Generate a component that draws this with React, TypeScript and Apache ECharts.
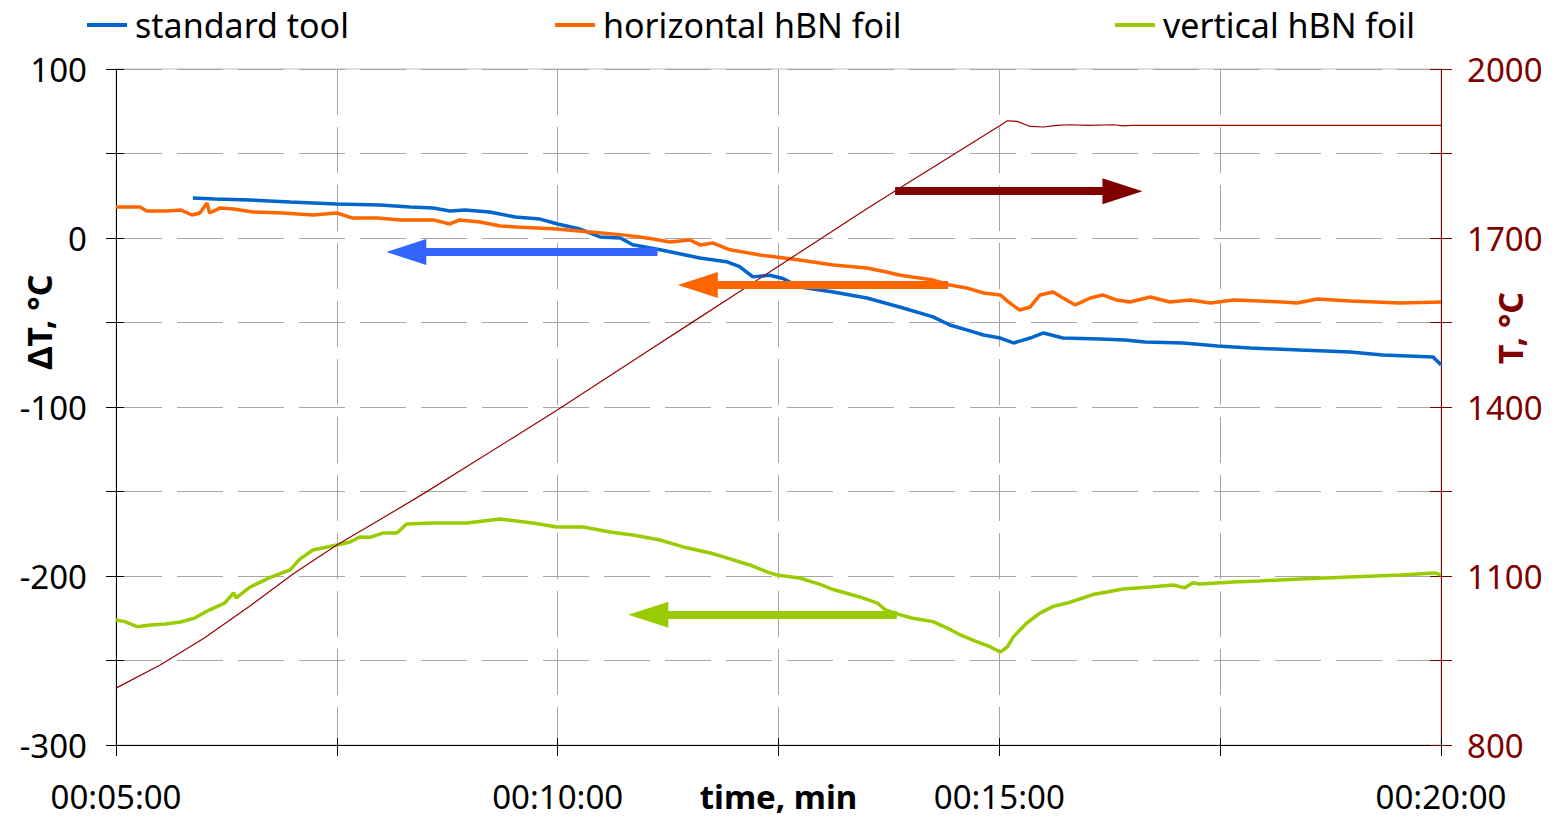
import React, { useEffect, useRef } from 'react';
import * as echarts from 'echarts';

// ---- labels ----
const legendNames = ['standard tool', 'horizontal hBN foil', 'vertical hBN foil'];
const tempName = 'T';
const xLabelMinutes = [5, 10, 15, 20];
const leftTickLabels = [-300, -200, -100, 0, 100];
const rightTickLabels = [800, 1100, 1400, 1700, 2000];

// ---- data: [minutes, value] ----
const standardTool: [number, number][] = [
  [5.87, 23.7], [6.12, 23.1], [6.52, 22.5], [6.97, 21.3], [7.5, 20.1], [7.99, 19.5], [8.33, 18.3],
  [8.59, 17.8], [8.78, 16.0], [8.95, 16.6], [9.23, 15.4], [9.52, 12.4], [9.8, 11.2], [10.0, 8.3],
  [10.24, 5.5], [10.48, 0.6], [10.71, 0.0], [10.85, -4.0], [11.16, -7.0], [11.61, -11.8], [11.91, -14.0],
  [12.06, -17.0], [12.21, -23.0], [12.4, -22.0], [12.55, -24.0], [12.74, -29.0], [13.12, -32.0],
  [13.5, -35.5], [13.88, -41.0], [14.25, -46.7], [14.44, -51.5], [14.63, -54.4], [14.82, -57.4],
  [15.01, -59.2], [15.16, -62.1], [15.35, -59.2], [15.5, -56.2], [15.72, -59.2], [16.14, -59.8],
  [16.42, -60.4], [16.65, -61.5], [17.08, -62.1], [17.47, -63.9], [17.84, -65.1], [18.4, -66.3],
  [18.97, -67.5], [19.34, -69.2], [19.91, -70.4], [20.0, -75.0],
];

const horizontalFoil: [number, number][] = [
  [5.0, 18.3], [5.27, 18.3], [5.35, 16.0], [5.58, 16.0], [5.73, 16.6], [5.86, 13.6], [5.95, 14.8],
  [6.03, 20.7], [6.06, 14.8], [6.18, 17.8], [6.33, 17.2], [6.55, 15.4], [6.89, 14.8], [7.23, 13.6],
  [7.5, 14.8], [7.68, 11.8], [7.96, 11.8], [8.22, 10.7], [8.59, 10.7], [8.78, 8.3], [8.89, 10.7],
  [9.12, 9.5], [9.35, 7.1], [9.54, 6.5], [9.99, 5.3], [10.37, 3.6], [10.71, 2.0], [10.93, 0.6],
  [11.08, -0.6], [11.27, -2.4], [11.5, -1.2], [11.61, -4.1], [11.76, -3.0], [11.95, -7.0],
  [12.29, -10.0], [12.74, -13.0], [13.12, -16.0], [13.5, -17.8], [13.71, -20.0], [13.88, -22.0],
  [14.25, -24.9], [14.44, -27.8], [14.63, -29.6], [14.82, -32.5], [15.01, -33.7], [15.12, -38.5],
  [15.23, -42.6], [15.35, -40.8], [15.46, -33.7], [15.61, -32.0], [15.72, -35.5], [15.86, -39.6],
  [16.03, -35.5], [16.17, -33.7], [16.33, -36.7], [16.48, -37.9], [16.71, -34.9], [16.93, -37.9],
  [17.16, -36.7], [17.39, -38.5], [17.65, -36.7], [18.21, -37.9], [18.37, -38.5], [18.6, -36.1],
  [18.97, -37.3], [19.54, -38.5], [20.0, -37.9],
];

const verticalFoil: [number, number][] = [
  [5.0, -226], [5.1, -227], [5.24, -230], [5.39, -229], [5.56, -228.4], [5.73, -227.2], [5.89, -224.9],
  [6.06, -220], [6.23, -216], [6.33, -210], [6.36, -213], [6.52, -206.5], [6.74, -201], [6.97, -196.4],
  [7.08, -190], [7.23, -184.6], [7.5, -181.7], [7.65, -179.9], [7.76, -176.9], [7.88, -177],
  [8.02, -174.6], [8.18, -174.6], [8.29, -169.2], [8.59, -168.6], [8.97, -168.6], [9.35, -166.3],
  [9.72, -168.6], [9.99, -171], [10.29, -171], [10.59, -174], [10.85, -175.7], [11.16, -178.7],
  [11.42, -182.8], [11.73, -186.4], [11.99, -190.5], [12.1, -192.3], [12.18, -193.5], [12.37, -197.6],
  [12.48, -199.4], [12.74, -201.2], [12.97, -205], [13.12, -208], [13.42, -212.4], [13.62, -216],
  [13.71, -220], [13.88, -223], [14.02, -225], [14.25, -227], [14.41, -230.8], [14.56, -234.9],
  [14.7, -237.9], [14.9, -242], [15.01, -245], [15.09, -242], [15.16, -236], [15.31, -227.8],
  [15.46, -222], [15.61, -218], [15.77, -216], [15.91, -213.6], [16.06, -211], [16.22, -209.5],
  [16.4, -207.7], [16.71, -206.5], [16.97, -205.3], [17.1, -207], [17.19, -204], [17.27, -204.7],
  [17.65, -203.5], [17.95, -202.9], [18.4, -201.8], [18.97, -200.6], [19.54, -199.4], [19.93, -198.2],
  [20.0, -199.4],
];

const furnaceTemp: [number, number][] = [
  [5.0, 901], [5.5, 942], [6.0, 990], [6.5, 1045], [7.0, 1103], [7.5, 1155], [8.0, 1201], [8.5, 1248],
  [9.0, 1297], [9.5, 1346], [10.0, 1395], [10.5, 1446], [11.0, 1497], [11.5, 1548], [12.0, 1599],
  [12.5, 1650], [13.0, 1701], [13.5, 1752], [14.0, 1801], [14.5, 1850], [15.0, 1899], [15.09, 1908],
  [15.2, 1907], [15.35, 1898], [15.5, 1897], [15.65, 1900], [15.8, 1901], [16.0, 1900], [16.3, 1901],
  [16.4, 1899], [16.5, 1900], [20.0, 1900],
];

// ---- arrows: [from minute, to minute (tip), level] ----
const arrowStandard = [11.13, 8.06, -8.3];
const arrowHorizontal = [14.42, 11.36, -27.8];
const arrowVertical = [13.84, 10.8, -223];
const arrowTemp = [13.82, 16.62, 1783];

const FONT = 'Noto Sans';
const X_MIN = 5;
const X_MAX = 20;
const PLOT_W = 1325;
const HEAD_LEN = 40;

function arrowMark(a: number[], color: string) {
  // the triangle head is centred on the line end, so end the line half a head before the tip
  const halfHeadMin = (HEAD_LEN / 2) * (X_MAX - X_MIN) / PLOT_W;
  const dir = a[1] < a[0] ? -1 : 1;
  const end = a[1] - dir * halfHeadMin;
  return {
    silent: true,
    animation: false,
    label: { show: false },
    emphasis: { disabled: true },
    lineStyle: { color, width: 8, type: 'solid', opacity: 1 },
    data: [
      [
        { coord: [a[0], a[2]], symbol: 'none' },
        { coord: [end, a[2]], symbol: 'triangle', symbolSize: [26, HEAD_LEN] },
      ],
    ],
  };
}

const minuteLabel = (m: number) => '00:' + String(m).padStart(2, '0') + ':00';

export default function App() {
  const ref = useRef<HTMLDivElement>(null);
  useEffect(() => {
    if (!ref.current) return;
    const chart = echarts.init(ref.current, undefined, { renderer: 'svg' });
    const legendLeft = [87, 555, 1115];
    const option: any = {
      animation: false,
      backgroundColor: '#ffffff',
      textStyle: { fontFamily: FONT },
      grid: {
        left: 116, right: 113, top: 69, bottom: 77,
        containLabel: false, outerBoundsMode: 'none',
        show: true, borderColor: '#BFBFBF', borderWidth: 1, backgroundColor: 'transparent',
      },
      legend: legendNames.map((name, i) => ({
        data: [name],
        left: legendLeft[i],
        top: 8,
        padding: 0,
        icon: 'rect',
        itemWidth: 40,
        itemHeight: 4,
        selectedMode: false,
        textStyle: { fontSize: 34, lineHeight: 34, color: '#000', fontFamily: FONT, padding: [0, 0, 0, 3] },
      })),
      xAxis: [
        {
          type: 'value', min: X_MIN, max: X_MAX, interval: 2.5, position: 'bottom',
          axisLine: { show: true, onZero: false, lineStyle: { color: '#000', width: 1 } },
          axisTick: { show: true, inside: false, length: 11, lineStyle: { color: '#000' } },
          axisLabel: {
            margin: 35, fontSize: 33, lineHeight: 33, color: '#000', fontFamily: FONT,
            formatter: (v: number) => (xLabelMinutes.includes(v) ? minuteLabel(v) : ''),
          },
          splitLine: { show: true, lineStyle: { color: '#A6A6A6', width: 1, type: [46, 12] } },
          name: 'time, min', nameLocation: 'middle', nameGap: 35, nameMoveOverlap: false,
          nameTextStyle: { fontSize: 33, lineHeight: 33, fontWeight: 'bold', color: '#000', fontFamily: FONT },
        },
        {
          type: 'value', min: X_MIN, max: X_MAX, interval: 2.5, position: 'bottom',
          axisLine: { show: false, onZero: false },
          axisTick: { show: true, inside: true, length: 7, lineStyle: { color: '#000' } },
          axisLabel: { show: false },
          splitLine: { show: false },
        },
      ],
      yAxis: [
        {
          type: 'value', position: 'left', min: -300, max: 100, interval: 50,
          axisLine: { show: true, onZero: false, lineStyle: { color: '#000', width: 1 } },
          axisTick: { show: true, inside: false, length: 10, lineStyle: { color: '#000' } },
          axisLabel: {
            margin: 29, fontSize: 33, color: '#000', fontFamily: FONT,
            formatter: (v: number) => (leftTickLabels.includes(v) ? String(v) : ''),
          },
          splitLine: { show: true, lineStyle: { color: '#A6A6A6', width: 1, type: [46, 15] } },
        },
        {
          type: 'value', position: 'right', min: 800, max: 2000, interval: 150,
          axisLine: { show: true, onZero: false, lineStyle: { color: '#800000', width: 1 } },
          axisTick: { show: true, inside: false, length: 11, lineStyle: { color: '#800000' } },
          axisLabel: {
            margin: 26, fontSize: 33, color: '#800000', fontFamily: FONT,
            formatter: (v: number) => (rightTickLabels.includes(v) ? String(v) : ''),
          },
          splitLine: { show: false },
        },
        {
          type: 'value', position: 'left', min: -300, max: 100, interval: 50,
          axisLine: { show: false, onZero: false },
          axisTick: { show: true, inside: true, length: 8, lineStyle: { color: '#000' } },
          axisLabel: { show: false },
          splitLine: { show: false },
        },
        {
          type: 'value', position: 'right', min: 800, max: 2000, interval: 150,
          axisLine: { show: false, onZero: false },
          axisTick: { show: true, inside: true, length: 11, lineStyle: { color: '#800000' } },
          axisLabel: { show: false },
          splitLine: { show: false },
        },
      ],
      graphic: [
        {
          type: 'text', x: 39, y: 322, rotation: Math.PI / 2, silent: true,
          style: {
            text: 'ΔT, °C', fill: '#000', fontSize: 34, fontWeight: 'bold', fontFamily: FONT,
            align: 'center', verticalAlign: 'middle',
          },
        },
        {
          type: 'text', x: 1510, y: 328, rotation: Math.PI / 2, silent: true,
          style: {
            text: 'T, °C', fill: '#800000', fontSize: 34, fontWeight: 'bold', fontFamily: FONT,
            align: 'center', verticalAlign: 'middle',
          },
        },
      ],
      series: [
        {
          name: legendNames[0], type: 'line', xAxisIndex: 0, yAxisIndex: 0, data: standardTool,
          showSymbol: false, symbol: 'none', z: 3,
          lineStyle: { color: '#0066CC', width: 3.5 }, itemStyle: { color: '#0066CC' },
          markLine: arrowMark(arrowStandard, '#3366FF'),
        },
        {
          name: legendNames[1], type: 'line', xAxisIndex: 0, yAxisIndex: 0, data: horizontalFoil,
          showSymbol: false, symbol: 'none', z: 3,
          lineStyle: { color: '#FF6600', width: 3.5 }, itemStyle: { color: '#FF6600' },
          markLine: arrowMark(arrowHorizontal, '#FF6600'),
        },
        {
          name: legendNames[2], type: 'line', xAxisIndex: 0, yAxisIndex: 0, data: verticalFoil,
          showSymbol: false, symbol: 'none', z: 3,
          lineStyle: { color: '#99CC00', width: 3.5 }, itemStyle: { color: '#99CC00' },
          markLine: arrowMark(arrowVertical, '#99CC00'),
        },
        {
          name: tempName, type: 'line', xAxisIndex: 0, yAxisIndex: 1, data: furnaceTemp,
          showSymbol: false, symbol: 'none', z: 4,
          lineStyle: { color: '#990000', width: 1.2 }, itemStyle: { color: '#990000' },
          markLine: arrowMark(arrowTemp, '#800000'),
        },
      ],
    };
    chart.setOption(option);
    return () => chart.dispose();
  }, []);
  return (
    <div
      ref={ref}
      style={{ position: 'absolute', left: 0, top: 0, width: 1554, height: 822, background: '#fff' }}
    />
  );
}
